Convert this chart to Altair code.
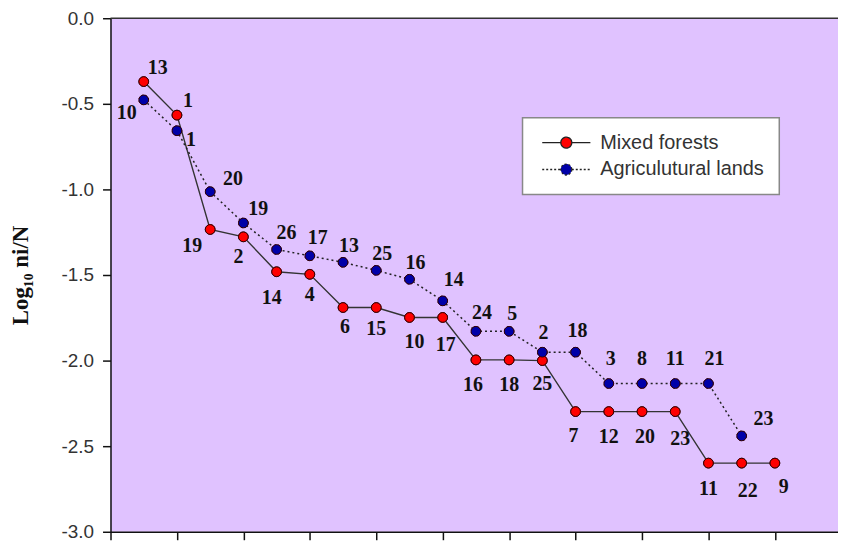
import altair as alt
import pandas as pd

# ---------------- data ----------------
SERIES = ["Mixed forests", "Agriculutural lands"]

rank_forest = list(range(1, 21))
y_forest = [-0.370, -0.566, -1.234, -1.277, -1.481, -1.496, -1.690, -1.690, -1.748, -1.748,
            -1.996, -1.996, -2.000, -2.298, -2.298, -2.298, -2.298, -2.599, -2.599, -2.599]
lab_forest = ["13", "1", "19", "2", "14", "4", "6", "15", "10", "17",
              "16", "18", "25", "7", "12", "20", "23", "11", "22", "9"]

rank_agri = list(range(1, 20))
y_agri = [-0.477, -0.657, -1.013, -1.196, -1.351, -1.388, -1.426, -1.473, -1.525, -1.651,
          -1.829, -1.829, -1.951, -1.951, -2.134, -2.134, -2.134, -2.134, -2.440]
lab_agri = ["10", "1", "20", "19", "26", "17", "13", "25", "16", "14",
            "24", "5", "2", "18", "3", "8", "11", "21", "23"]

y_ticks = [0.0, -0.5, -1.0, -1.5, -2.0, -2.5, -3.0]
x_ticks = list(range(0, 21, 2))

# label placement offsets (pixels, screen coordinates)
dx_forest = [14, 11, -18, -5, -5, 0, 2, 0, 5, 3, -3, 0, 0, -2, 0, 3, 5, 0, 6, 9]
dy_forest = [-14, -14, 17, 20, 26, 21, 20, 22, 25, 28, 25, 25, 24, 25, 26, 26, 28, 26, 28, 24]
dx_agri = [-17, 14, 23, 15, 10, 8, 6, 6, 6, 11, 6, 3, 1, 2, 2, 0, 0, 6, 22]
dy_agri = [13, 9, -13, -14, -17, -18, -16, -16, -16, -21, -18, -17, -19, -21, -25, -25, -25, -25, -17]

# ---------------- layout ----------------
W, H = 731, 516
XMAX = 21.9
PX_X = W / XMAX
PX_Y = H / 3.0

rows = []
for s, xs, ys, labs, dxs, dys in [
    (SERIES[0], rank_forest, y_forest, lab_forest, dx_forest, dy_forest),
    (SERIES[1], rank_agri, y_agri, lab_agri, dx_agri, dy_agri),
]:
    for x, y, l, dx, dy in zip(xs, ys, labs, dxs, dys):
        rows.append(dict(series=s, x=x, y=y, label=l,
                         lx=x + dx / PX_X, ly=y - dy / PX_Y))
df = pd.DataFrame(rows)

xscale = alt.Scale(domain=[0, XMAX], nice=False, zero=False)
yscale = alt.Scale(domain=[-3, 0], nice=False, zero=False)

x_axis = alt.Axis(values=x_ticks, labels=False, title=None, grid=False,
                  tickSize=8, tickColor="#111", tickWidth=1.5,
                  domainColor="#111", domainWidth=1.5)
y_axis = alt.Axis(values=y_ticks,
                  labelExpr="datum.value == 0 ? '0.0' : '-' + format(-datum.value, '.1f')",
                  labelFont="Liberation Sans", labelFontSize=19, labelColor="#333",
                  labelPadding=9, grid=False,
                  tickSize=8, tickColor="#111", tickWidth=1.5,
                  domainColor="#111", domainWidth=1.5,
                  title="Log\u2081\u2080 ni/N", titleFont="Liberation Serif",
                  titleFontWeight="bold", titleFontSize=23, titleColor="#111",
                  titleAngle=270, titleX=-90, titleY=258,
                  titleAlign="center", titleBaseline="middle")


def X(f):
    return alt.X(f + ":Q", scale=xscale, axis=x_axis)


def Y(f):
    return alt.Y(f + ":Q", scale=yscale, axis=y_axis)


PATH = "M-4.4,0H-1M1,0H4.4M1,0A1,1,0,1,1,-1,0A1,1,0,1,1,1,0Z"
legend = alt.Legend(title=None, orient="none", legendX=414, legendY=100,
                    symbolType=PATH, symbolSize=121, symbolStrokeColor="#222",
                    symbolStrokeWidth=1.3, symbolOffset=19, labelOffset=24,
                    labelFont="Liberation Sans", labelFontSize=20, labelColor="#333",
                    labelLimit=400,
                    padding=15, rowPadding=7, fillColor="white",
                    strokeColor="#888")

fill_scale = alt.Scale(domain=SERIES, range=["#ff0000", "#0000a8"])
dash_scale = alt.Scale(domain=SERIES, range=[[1, 0], [2, 2]])

base = alt.Chart(df)

line_f = base.transform_filter(alt.datum.series == SERIES[0]).mark_line(
    color="#333", strokeWidth=1.4).encode(x=X("x"), y=Y("y"))
line_a = base.transform_filter(alt.datum.series == SERIES[1]).mark_line(
    color="#222", strokeWidth=1.5, strokeDash=[2, 3]).encode(x=X("x"), y=Y("y"))

pts_legend = base.mark_point(filled=True, size=95, stroke="#300", strokeWidth=1,
                             opacity=1).encode(
    x=X("x"), y=Y("y"),
    fill=alt.Fill("series:N", scale=fill_scale, legend=legend, sort=SERIES),
    strokeDash=alt.StrokeDash("series:N", scale=dash_scale, legend=legend, sort=SERIES),
)
pts = base.mark_point(filled=True, size=95, stroke="#300", strokeWidth=1,
                      opacity=1).encode(
    x=X("x"), y=Y("y"),
    fill=alt.Fill("series:N", scale=fill_scale, legend=None),
)

labels = base.mark_text(font="Liberation Serif", fontWeight="bold", fontSize=20,
                        color="#111", align="center", baseline="middle").encode(
    x=X("lx"), y=Y("ly"), text="label:N")

top = alt.Chart(alt.Data(values=[{}])).mark_rule(color="#333", strokeWidth=1.5).encode(
    y=alt.datum(0, scale=yscale))

chart = alt.layer(line_f, line_a, pts_legend, pts, labels, top).properties(
    width=W, height=H,
    autosize=alt.AutoSizeParams(type="none"),
    padding={"left": 103, "top": 9, "right": 0, "bottom": 9},
    background="white",
).configure_view(fill="#E0C2FF", stroke=None).configure_legend(strokeWidth=1.5)

chart.save("out.html", embed_options={"renderer": "svg", "actions": False})
